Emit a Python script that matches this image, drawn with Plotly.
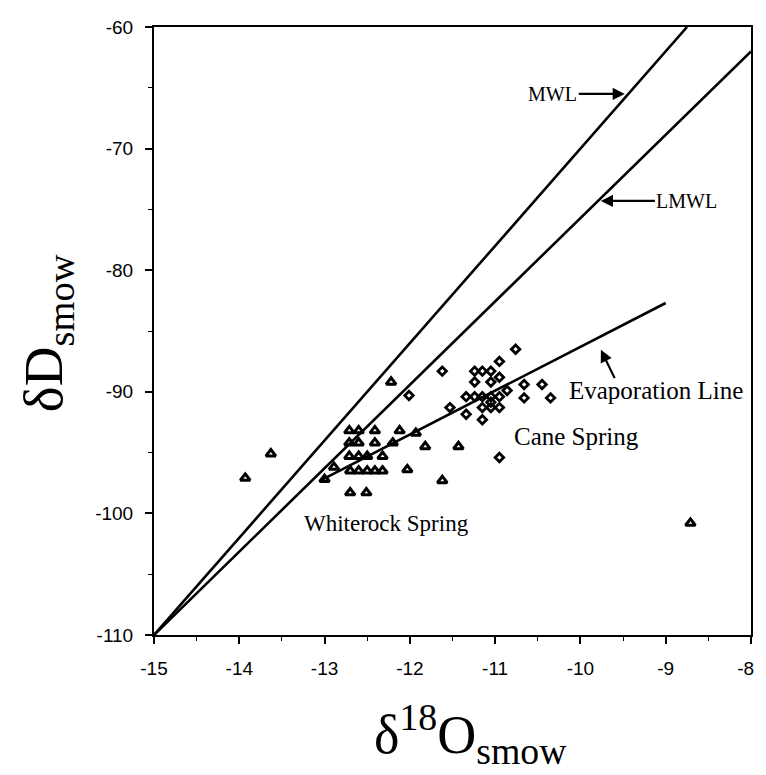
import plotly.graph_objects as go

# Whiterock Spring (triangles)
tri_x = [-13.93, -13.63, -13.00, -12.89,
         -12.71, -12.60, -12.41, -12.12,
         -12.71, -12.60, -12.41, -12.20,
         -12.71, -12.60, -12.50, -12.32,
         -12.70, -12.60, -12.50, -12.41, -12.32,
         -12.22, -11.93, -11.82, -11.43, -12.03, -11.62, -12.70, -12.51, -8.71]
tri_y = [-97.1, -95.1, -97.2, -96.2,
         -93.2, -93.2, -93.2, -93.2,
         -94.2, -94.2, -94.2, -94.2,
         -95.3, -95.3, -95.3, -95.3,
         -96.5, -96.5, -96.5, -96.5, -96.5,
         -89.2, -93.4, -94.5, -94.5, -96.4, -97.3, -98.3, -98.3, -100.8]

# Cane Spring (diamonds)
dia_x = [-12.01, -11.62, -11.53, -11.34, -11.34, -11.24, -11.15, -11.05,
         -11.24, -11.05, -11.24, -11.15, -11.05, -10.95, -11.15, -11.05,
         -10.95, -11.05, -11.15, -10.95, -10.95, -10.86, -10.76, -10.66,
         -10.45, -10.66, -10.35, -10.95]
dia_y = [-90.3, -88.3, -91.3, -90.4, -91.85, -88.3, -88.3, -88.3,
         -89.2, -89.2, -90.4, -90.4, -90.4, -90.4, -91.3, -91.3,
         -91.3, -90.85, -92.3, -87.5, -88.8, -89.9, -86.5, -89.4,
         -89.4, -90.5, -90.5, -95.4]

# Reference lines (endpoints)
mwl_x = [-15.0, -8.75]
mwl_y = [-110.0, -60.0]
lmwl_x = [-15.0, -8.0]
lmwl_y = [-110.0, -62.0]
evap_x = [-13.05, -9.0]
evap_y = [-97.3, -82.7]

x_ticks = [-15, -14, -13, -12, -11, -10, -9, -8]
x_ticktext = ["-15", "-14", "-13", "-12", "-11", "-10", "-9", "-8\u00a0\u00a0"]
y_ticks = [-110, -100, -90, -80, -70, -60]
y_ticktext = ["-110", "-100", "-90", "-80", "-70", "-60"]

fig = go.Figure()
line_style = dict(color="black", width=2.6)
fig.add_trace(go.Scatter(x=mwl_x, y=mwl_y, mode="lines", line=line_style, showlegend=False))
fig.add_trace(go.Scatter(x=lmwl_x, y=lmwl_y, mode="lines", line=line_style, showlegend=False))
fig.add_trace(go.Scatter(x=evap_x, y=evap_y, mode="lines", line=line_style, showlegend=False))
fig.add_trace(go.Scatter(x=tri_x, y=tri_y, mode="markers", showlegend=False,
                         marker=dict(symbol="triangle-up-open", size=8.5, color="black",
                                     line=dict(width=3, color="black"))))
fig.add_trace(go.Scatter(x=dia_x, y=dia_y, mode="markers", showlegend=False,
                         marker=dict(symbol="diamond-open", size=6.5, color="black",
                                     line=dict(width=2.8, color="black"))))

tickfont = dict(family="Liberation Sans", size=19, color="black")
axis_common = dict(showline=True, linecolor="black", linewidth=2, mirror=True,
                   ticks="outside", ticklen=7, tickwidth=1.5, tickcolor="black",
                   showgrid=False, zeroline=False, tickfont=tickfont,
                   ticklabeloverflow="allow")
fig.update_xaxes(range=[-15, -8], tickvals=x_ticks, ticktext=x_ticktext,
                 ticklabelstandoff=8,
                 minor=dict(dtick=0.5, ticks="outside", ticklen=4, tickcolor="black", tickwidth=1.2),
                 **axis_common)
fig.update_yaxes(range=[-110, -60], tickvals=y_ticks, ticktext=y_ticktext,
                 ticklabelstandoff=8,
                 minor=dict(dtick=5, ticks="outside", ticklen=4, tickcolor="black", tickwidth=1.2),
                 **axis_common)

serif = "Liberation Serif"
big = dict(family=serif, size=25, color="black")
mid = dict(family=serif, size=23, color="black")
small = dict(family=serif, size=20, color="black")
arrow_style = dict(arrowhead=2, arrowsize=1.1, arrowwidth=2.2, arrowcolor="black", standoff=0)
annotations = [
    # MWL label with arrow pointing right to the line
    dict(x=-9.48, y=-65.5, xref="x", yref="y", text="MWL", showarrow=True,
         ax=-72, ay=0, font=small, **arrow_style),
    # LMWL label with arrow pointing left to the line
    dict(x=-9.76, y=-74.3, xref="x", yref="y", text="LMWL", showarrow=True,
         ax=86, ay=0, font=small, **arrow_style),
    # Evaporation line arrow + label
    dict(x=-9.76, y=-86.55, ax=-9.59, ay=-89.0, xref="x", yref="y", axref="x", ayref="y",
         text="", showarrow=True, **arrow_style),
    dict(x=-10.16, y=-89.86, xref="x", yref="y", text="Evaporation Line", showarrow=False,
         xanchor="left", yanchor="middle", font=big),
    dict(x=-10.80, y=-93.67, xref="x", yref="y", text="Cane Spring", showarrow=False,
         xanchor="left", yanchor="middle", font=big),
    dict(x=-13.26, y=-100.8, xref="x", yref="y", text="Whiterock Spring", showarrow=False,
         xanchor="left", yanchor="middle", font=mid),
    # axis titles
    dict(x=0.53, y=-0.228, xref="paper", yref="paper", text="δ<sup>18</sup>O<sub>smow</sub>",
         showarrow=False, xanchor="center", yanchor="bottom",
         font=dict(family=serif, size=54, color="black")),
    dict(x=-0.178, y=0.496, xref="paper", yref="paper", text="δD<sub>smow</sub>", textangle=-90,
         showarrow=False, xanchor="center", yanchor="middle",
         font=dict(family=serif, size=55, color="black")),
]
fig.update_layout(width=766, height=775, margin=dict(l=146, r=9, t=18, b=148),
                  plot_bgcolor="white", paper_bgcolor="white", annotations=annotations)

fig.write_html("out.html")
